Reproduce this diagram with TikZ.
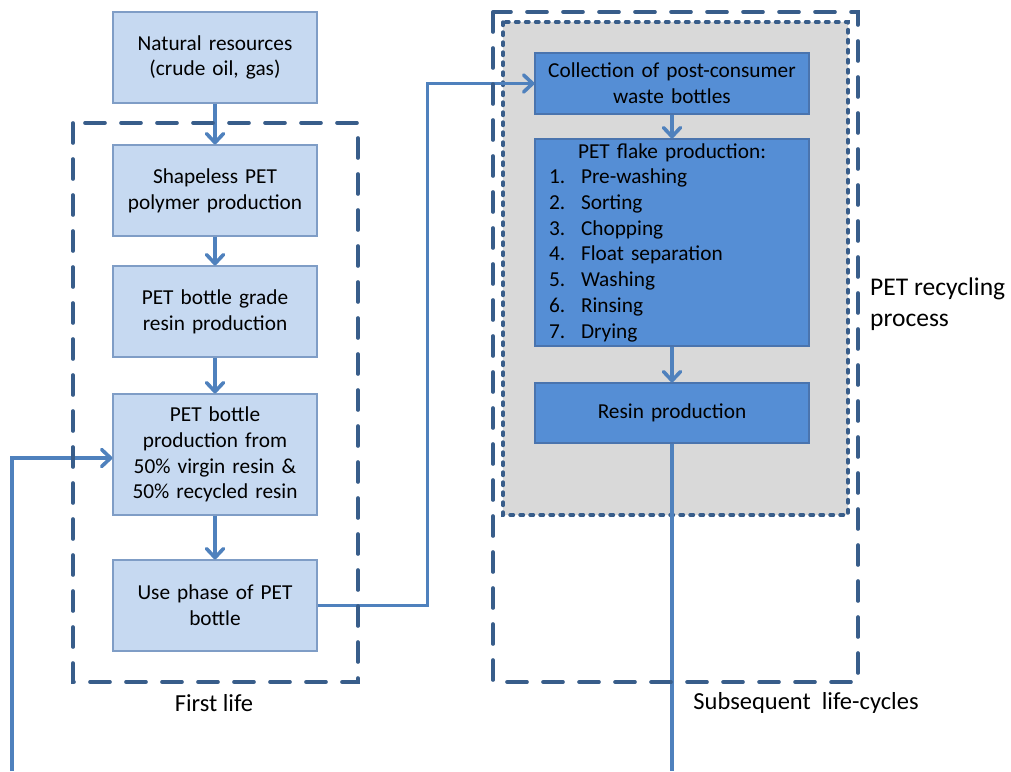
\documentclass[tikz,border=0pt]{standalone}
\usepackage{fontspec}
\setmainfont{Carlito}
\usetikzlibrary{arrows.meta}
\definecolor{lightfill}{HTML}{C6D9F1}
\definecolor{lightedge}{HTML}{7F9DC6}
\definecolor{darkfill}{HTML}{558ED5}
\definecolor{darkedge}{HTML}{4A74AE}
\definecolor{flowblue}{HTML}{4F81BD}
\definecolor{dashblue}{HTML}{385D8A}
\definecolor{panelgray}{HTML}{D9D9D9}
\tikzset{
  stagebox/.style={draw=lightedge, fill=lightfill, line width=1.2pt,
    minimum width=204pt, minimum height=91pt, text width=194pt,
    inner sep=0pt, align=center, font=\fontsize{21.3}{25.7}\selectfont},
  recyclebox/.style={stagebox, draw=darkedge, fill=darkfill,
    minimum width=274pt, text width=266pt},
  flowline/.style={draw=flowblue, line width=3.6pt},
  flow/.style={flowline, -{Straight Barb[length=9pt,width=17pt,line width=3.6pt,round]}},
  lifeframe/.style={draw=dashblue, line width=3.6pt, line cap=round,
    dash pattern=on 20pt off 16pt},
  panelframe/.style={draw=dashblue, fill=panelgray, line width=3.4pt,
    line cap=round, dash pattern=on 3.5pt off 6.5pt},
  caption/.style={font=\fontsize{24.5}{29}\selectfont}
}
\begin{document}
\begin{tikzpicture}[x=1pt, y=-1pt]
      \useasboundingbox (0,0) rectangle (1011,771);
      \draw [panelframe] (503,22) rectangle (848,515);
      % first life
      \node [stagebox] (natural) at (215,57.5) {Natural resources\\(crude oil, gas)};
      \node [stagebox] (polymer) at (215,190.5) {Shapeless PET\\polymer production};
      \node [stagebox] (grade) at (215,311.5) {PET bottle grade\\resin production};
      \node [stagebox, minimum height=121pt] (bottle) at (215,454.5) %
            {PET bottle\\production from\\50\% virgin resin \&\\50\% recycled resin};
      \node [stagebox] (use) at (215,605.5) {Use phase of PET\\bottle};
      % recycling
      \node [recyclebox, minimum height=61pt] (collect) at (672,83.5) %
            {Collection of post-consumer\\waste bottles};
      \node [recyclebox, minimum height=207pt, text width=246pt, align=left] %
            (flake) at (672,242.5) {%
            \makebox[246pt][c]{PET flake production:}\\
            \makebox[32pt][l]{1.}Pre-washing\\
            \makebox[32pt][l]{2.}Sorting\\
            \makebox[32pt][l]{3.}Chopping\\
            \makebox[32pt][l]{4.}Float separation\\
            \makebox[32pt][l]{5.}Washing\\
            \makebox[32pt][l]{6.}Rinsing\\
            \makebox[32pt][l]{7.}Drying};
      \node [recyclebox, minimum height=60pt] (resin) at (672,413) {Resin production};
      % labels
      \node [caption] (firstlabel) at (214,703) {First life};
      \node [caption] (nextlabel) at (806,703) {Subsequent\ \ life-cycles};
      \node [font=\fontsize{25.5}{31}\selectfont, anchor=west, align=left, inner sep=0pt] %
            (processlabel) at (870,304) {PET recycling\\process};
      % connectors
      \coordinate (leftfoot) at (12,771);
      \coordinate (rightfoot) at (672,771);
      \draw [flow] (natural) -- (polymer);
      \draw [flow] (polymer) -- (grade);
      \draw [flow] (grade) -- (bottle);
      \draw [flow] (bottle) -- (use);
      \draw [flow] (collect) -- (flake);
      \draw [flow] (flake) -- (resin);
      \draw [flow] (use.east) -- ++(110,0) |- (collect.west);
      \draw [flowline] (resin.south) -- (rightfoot);
      \draw [flow] (leftfoot) |- ([yshift=-3.5pt]bottle.west);
      % frames
      \draw [lifeframe] (73,123) rectangle (358,682);
      \draw [lifeframe] (493,12) rectangle (858,682);
    \end{tikzpicture}
\end{document}
